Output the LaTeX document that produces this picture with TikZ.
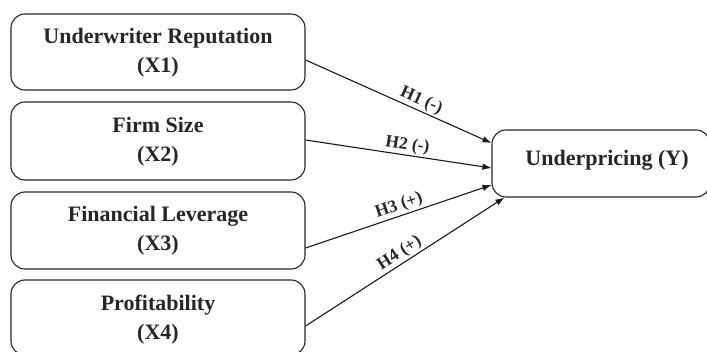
\documentclass[tikz,border=0pt]{standalone}
\usepackage{fontspec}
\setmainfont{Liberation Serif}
\usetikzlibrary{calc,arrows.meta}
\tikzset{
  varbox/.style={draw=black!85, line width=1.1pt, rounded corners=14pt, align=center, inner sep=0pt},
  boxtext/.style={font=\fontsize{22}{29}\selectfont\bfseries, text=black!85},
  link/.style={draw=black!90, line width=1.1pt, -{Latex[length=9pt,width=6.5pt]}},
  hyp/.style={font=\fontsize{17.5}{19}\selectfont\bfseries, text=black!85, sloped, above, inner sep=1.5pt}
}
\begin{document}
\begin{tikzpicture}[x=1pt,y=-1pt]
\useasboundingbox (0,0) rectangle (707,351);
\fill[white] (0,0) rectangle (707,351);
\node[varbox, minimum width=294pt, minimum height=76pt] (x1) at (158,52) {};
\node[varbox, minimum width=294pt, minimum height=78pt] (x2) at (158,141) {};
\node[varbox, minimum width=294pt, minimum height=77pt] (x3) at (158,230.5) {};
\node[varbox, minimum width=294pt, minimum height=75pt] (x4) at (158,317.5) {};
\node[varbox, minimum width=218pt, minimum height=67pt] (y) at (601,163.5) {};
\node[boxtext, align=center] (t1) at (158,52.5) {Underwriter Reputation\\(X1)};
\node[boxtext, align=center] (t2) at (158,141.5) {Firm Size\\(X2)};
\node[boxtext, align=center] (t3) at (158,231) {Financial Leverage\\(X3)};
\node[boxtext, align=center] (t4) at (158,320) {Profitability\\(X4)};
\node[boxtext] (ty) at (607,160) {Underpricing (Y)};
\coordinate (s1) at ($(x1.east)+(0,8)$);
\coordinate (s2) at ($(x2.east)+(0,-1)$);
\coordinate (s3) at ($(x3.east)+(0,17.5)$);
\coordinate (s4) at ($(x4.east)+(0,8.5)$);
\coordinate (e1) at ($(y.west)+(0,-20.5)$);
\coordinate (e2) at ($(y.west)+(0,4.5)$);
\coordinate (e3) at ($(y.west)+(0,21.5)$);
\coordinate (e4) at ($(y.south west)+(13,0)$);
\draw[link] (s1) -- node[hyp, pos=0.6] {H1 (-)} (e1);
\draw[link] (s2) -- node[hyp, pos=0.54] {H2 (-)} (e2);
\draw[link] (s3) -- node[hyp, pos=0.52] {H3 (+)} (e3);
\draw[link] (s4) -- node[hyp, pos=0.5] {H4 (+)} (e4);
\end{tikzpicture}
\end{document}
